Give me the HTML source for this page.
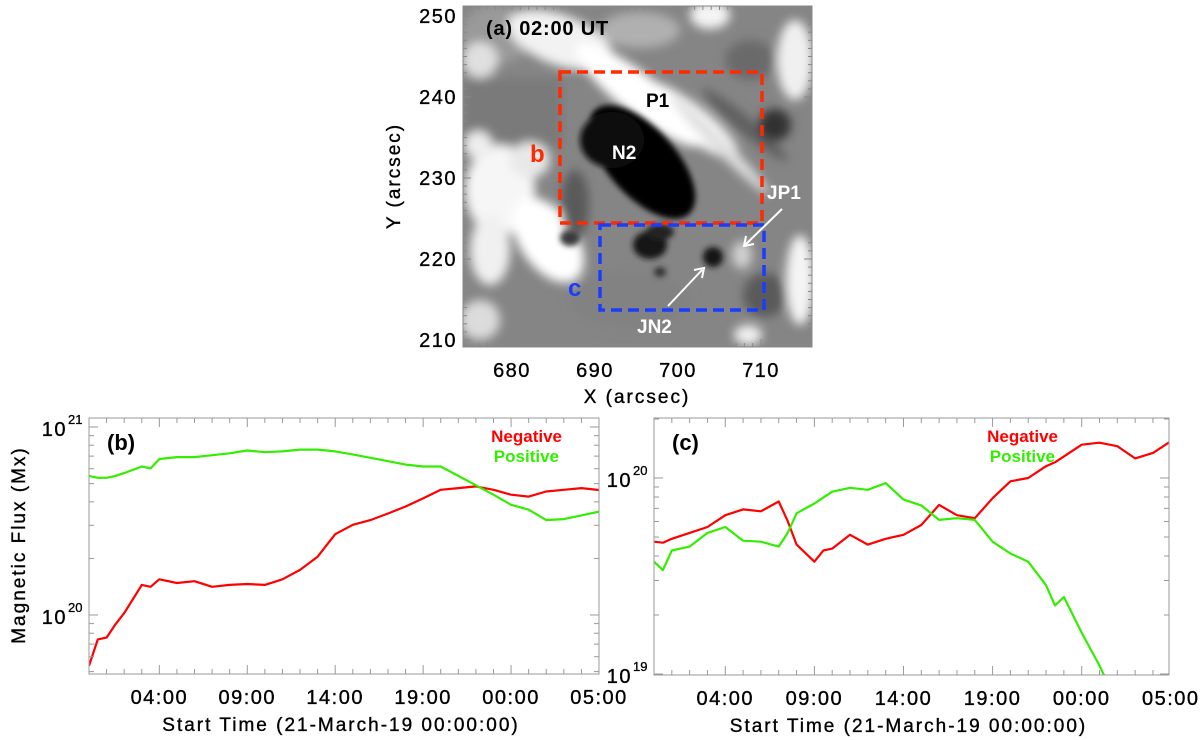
<!DOCTYPE html>
<html><head><meta charset="utf-8">
<style>
body{margin:0;background:#fff;}
#root{position:relative;width:1200px;height:740px;overflow:hidden;background:#fff;font-family:"Liberation Sans",sans-serif;}
svg text{font-family:"Liberation Sans",sans-serif;}
.tk{font-size:20px;letter-spacing:1.5px;stroke:#000;stroke-width:0.35px;}
.ttl{font-size:19px;letter-spacing:2px;stroke:#000;stroke-width:0.35px;}
</style></head>
<body>
<div id="root">
<svg id="svg" width="1200" height="740" viewBox="0 0 1200 740" xmlns="http://www.w3.org/2000/svg">
<defs>
<clipPath id="imgclip"><rect x="463" y="6" width="349" height="341"/></clipPath>
<filter id="bl" x="-50%" y="-50%" width="200%" height="200%"><feGaussianBlur stdDeviation="5"/></filter>
<filter id="bl2" x="-50%" y="-50%" width="200%" height="200%"><feGaussianBlur stdDeviation="3"/></filter>
<clipPath id="clipb"><rect x="89" y="418" width="510" height="256"/></clipPath>
<clipPath id="clipc"><rect x="654" y="418" width="515" height="257"/></clipPath>
</defs>
<g id="panel-a">
 <g clip-path="url(#imgclip)">
  <rect x="463" y="6" width="349" height="341" fill="#858585"/>
  <g filter="url(#bl)">
   <ellipse cx="495" cy="35" rx="35" ry="30" fill="#9a9a9a"/>
   <ellipse cx="560" cy="40" rx="55" ry="25" fill="#f2f2f2" transform="rotate(20 560 40)"/>
   <ellipse cx="480" cy="60" rx="18" ry="18" fill="#e0e0e0"/>
   <ellipse cx="640" cy="30" rx="40" ry="18" fill="#b0b0b0"/>
   <ellipse cx="710" cy="15" rx="20" ry="14" fill="#f4f4f4"/>
   <ellipse cx="795" cy="60" rx="18" ry="40" fill="#f0f0f0"/>
   <ellipse cx="750" cy="60" rx="25" ry="20" fill="#6a6a6a"/>
   <rect x="463" y="78" width="100" height="70" fill="#7a7a7a"/>
   <ellipse cx="500" cy="190" rx="35" ry="45" fill="#f6f6f6"/>
   <ellipse cx="490" cy="250" rx="20" ry="35" fill="#f0f0f0"/>
   <ellipse cx="530" cy="160" rx="20" ry="18" fill="#e8e8e8"/>
   <ellipse cx="478" cy="145" rx="14" ry="14" fill="#eeeeee"/>
   <ellipse cx="480" cy="320" rx="20" ry="20" fill="#dcdcdc"/>
   <ellipse cx="548" cy="240" rx="28" ry="48" fill="#ffffff" transform="rotate(-35 548 240)"/>
   <ellipse cx="575" cy="205" rx="14" ry="35" fill="#5a5a5a"/>
   <ellipse cx="640" cy="95" rx="80" ry="20" fill="#ffffff" transform="rotate(38 640 95)"/>
   <ellipse cx="690" cy="120" rx="60" ry="16" fill="#ffffff" transform="rotate(38 690 120)"/>
   <ellipse cx="720" cy="145" rx="70" ry="7" fill="#dedede" transform="rotate(45 720 145)"/>
   <ellipse cx="745" cy="125" rx="55" ry="8" fill="#5e5e5e" transform="rotate(40 745 125)"/>
   <ellipse cx="775" cy="125" rx="16" ry="16" fill="#333"/>
   <ellipse cx="800" cy="280" rx="14" ry="45" fill="#f4f4f4"/>
   <ellipse cx="748" cy="335" rx="14" ry="10" fill="#f0f0f0"/>
   <ellipse cx="630" cy="300" rx="60" ry="30" fill="#828282"/>
   <ellipse cx="765" cy="295" rx="22" ry="22" fill="#5a5a5a"/>
   <ellipse cx="742" cy="255" rx="10" ry="14" fill="#d0d0d0"/>
  </g>
  <g filter="url(#bl2)">
   <ellipse cx="642" cy="162" rx="70" ry="34" fill="#000" transform="rotate(48 642 162)"/>
   <ellipse cx="612" cy="140" rx="32" ry="28" fill="#101010"/>
   <ellipse cx="650" cy="245" rx="17" ry="14" fill="#151515"/>
   <ellipse cx="660" cy="232" rx="14" ry="8" fill="#222"/>
   <ellipse cx="570" cy="238" rx="10" ry="8" fill="#3a3a3a"/>
   <ellipse cx="713" cy="257" rx="10" ry="10" fill="#151515"/>
   <ellipse cx="660" cy="272" rx="6" ry="5" fill="#333"/>
  </g>
 </g>
 <rect x="463" y="6" width="349" height="341" fill="none" stroke="#888" stroke-width="1"/>
 <text x="486" y="35" font-size="20" font-weight="bold" letter-spacing="0.8" fill="#000">(a) 02:00 UT</text>
 <rect x="560" y="72" width="202" height="151" fill="none" stroke="#ff2a00" stroke-width="3.5" stroke-dasharray="11,6"/>
 <rect x="600" y="225" width="164" height="85" fill="none" stroke="#1a3cff" stroke-width="3.5" stroke-dasharray="11,6"/>
 <text x="530" y="162" font-size="24" font-weight="bold" fill="#ff2a00">b</text>
 <text x="568" y="296" font-size="24" font-weight="bold" fill="#1a3cff">c</text>
 <text x="646" y="107" font-size="19" font-weight="bold" fill="#000">P1</text>
 <text x="612" y="159" font-size="19" font-weight="bold" fill="#fff">N2</text>
 <text x="767" y="199" font-size="19" font-weight="bold" fill="#fff">JP1</text>
 <text x="637" y="333" font-size="19" font-weight="bold" fill="#fff">JN2</text>
 <line x1="782" y1="209" x2="745" y2="245" stroke="#fff" stroke-width="2"/>
 <polyline points="746,236 744,246 754,244" fill="none" stroke="#fff" stroke-width="2"/>
 <line x1="668" y1="306" x2="702" y2="270" stroke="#fff" stroke-width="2"/>
 <polyline points="694,270 704,268 702,278" fill="none" stroke="#fff" stroke-width="2"/>
 <g id="axa"></g>
 <text x="637" y="403" class="ttl" text-anchor="middle">X (arcsec)</text>
 <text transform="translate(400 176) rotate(-90)" class="ttl" text-anchor="middle">Y (arcsec)</text>
</g>
<g id="pb"></g>
<g id="pc"></g>
</svg>
</div>
<script>
// Panel (a) axis ticks
const aXTicks=[680,690,700,710];
const aYTicks=[210,220,230,240,250];
// Panel (b) data (hours from 21-Mar 00:00, log10 flux)
const bHours=[0,0.5,1,1.5,2,3,3.5,4,5,6,7,8,9,10,11,12,13,14,15,16,17,18,19,20,21,22,23,24,25,26,27,28,29];
const bNegative=[19.73,19.87,19.88,19.95,20.01,20.16,20.15,20.19,20.17,20.18,20.15,20.16,20.165,20.16,20.19,20.24,20.31,20.43,20.48,20.505,20.54,20.577,20.62,20.666,20.675,20.684,20.666,20.64,20.63,20.657,20.666,20.675,20.665];
const bPositive=[20.74,20.73,20.73,20.74,20.755,20.79,20.78,20.83,20.84,20.84,20.85,20.86,20.875,20.866,20.87,20.88,20.88,20.87,20.854,20.836,20.818,20.80,20.79,20.79,20.74,20.69,20.64,20.586,20.56,20.505,20.51,20.53,20.55];
// Panel (c) data
const cHours=[0,0.5,1,2,3,4,5,6,7,7.5,8,9,9.5,10,11,12,13,14,15,16,17,18,19,20,21,22,22.5,23,24,25,26,27,28,29];
const cNegative=[19.675,19.67,19.69,19.72,19.75,19.81,19.84,19.83,19.88,19.78,19.66,19.573,19.63,19.64,19.71,19.66,19.69,19.71,19.76,19.863,19.81,19.795,19.897,19.983,20.0,20.06,20.08,20.11,20.17,20.18,20.162,20.10,20.128,20.188];
const cPositive=[19.573,19.53,19.63,19.65,19.72,19.75,19.68,19.675,19.65,19.72,19.82,19.87,19.9,19.93,19.95,19.94,19.974,19.89,19.86,19.786,19.795,19.786,19.675,19.615,19.573,19.453,19.35,19.393,19.21,19.043,18.85,18.7,18.6,18.5];
const xMajor=[4,9,14,19,24,29];
const xMajorLabels=["04:00","09:00","14:00","19:00","00:00","05:00"];

const NS="http://www.w3.org/2000/svg";
function mk(tag,attrs,parent){const e=document.createElementNS(NS,tag);for(const k in attrs)e.setAttribute(k,attrs[k]);parent.appendChild(e);return e;}

// panel a axes
(function(){
 const g=document.getElementById('axa');
 const ax=v=>512+(v-680)*8.3, ay=v=>340-(v-210)*8.1;
 aXTicks.forEach(v=>{
  const l=mk('line',{x1:ax(v),x2:ax(v),y1:347,y2:339,stroke:'#888'},g);
  
  
  const t=mk('text',{x:ax(v),y:377,'class':'tk','text-anchor':'middle'},g);t.textContent=v;
  
  
 });
 for(let v=676;v<=716;v+=1){const x=ax(v);if(x>463&&x<812){mk('line',{x1:x,x2:x,y1:347,y2:343,stroke:'#888'},g);mk('line',{x1:x,x2:x,y1:6,y2:10,stroke:'#888'},g);}}
 aYTicks.forEach(v=>{
  mk('line',{x1:463,x2:471,y1:ay(v),y2:ay(v),stroke:'#888'},g);
  mk('line',{x1:812,x2:804,y1:ay(v),y2:ay(v),stroke:'#888'},g);
  const t=mk('text',{x:457,y:ay(v)+7,'class':'tk','text-anchor':'end'},g);t.textContent=v;
  
  
 });
 for(let v=210;v<=250;v+=1){const y=ay(v);mk('line',{x1:463,x2:467,y1:y,y2:y,stroke:'#888'},g);mk('line',{x1:812,x2:808,y1:y,y2:y,stroke:'#888'},g);}
})();

function panel(gid,P,hours,neg,pos,clip,label,yDecades){
 const g=document.getElementById(gid);
 const X=h=>P.x0+(h-P.h0)*(P.x1-P.x0)/(P.h1-P.h0);
 const Y=lv=>P.yRef-(lv-P.lRef)*P.dec;
 const sg=mk('g',{'clip-path':'url(#'+clip+')'},g);
 [[neg,'#ff0000','negative-line'],[pos,'#33ee00','positive-line']].forEach(([arr,col,nm])=>{
  const pts=hours.map((h,i)=>X(h).toFixed(1)+','+Y(arr[i]).toFixed(1)).join(' ');
  const pl=mk('polyline',{points:pts,fill:'none',stroke:col,'stroke-width':2.2,'stroke-linejoin':'round'},sg);
  
  
 });
 const fr=mk('rect',{x:P.x0,y:P.yt,width:P.x1-P.x0,height:P.yb-P.yt,fill:'none',stroke:'#999','stroke-width':1},g);
 
 
 for(let h=1;h<29;h++){const x=X(h);const L=xMajor.includes(h)?9:5;
  mk('line',{x1:x,x2:x,y1:P.yb,y2:P.yb-L,stroke:'#999'},g);mk('line',{x1:x,x2:x,y1:P.yt,y2:P.yt+L,stroke:'#999'},g);}
 xMajor.forEach((h,i)=>{const t=mk('text',{x:X(h),y:P.yb+30,'class':'tk','text-anchor':'middle'},g);t.textContent=xMajorLabels[i];
  
  });
 for(let d=P.dmin;d<=P.dmax;d++){for(let m=1;m<10;m++){const lv=d+Math.log10(m);const y=Y(lv);if(y<P.yt-0.5||y>P.yb+0.5)continue;const L=m===1?9:5;
  mk('line',{x1:P.x0,x2:P.x0+L,y1:y,y2:y,stroke:'#999'},g);mk('line',{x1:P.x1,x2:P.x1-L,y1:y,y2:y,stroke:'#999'},g);}}
 yDecades.forEach(d=>{const y=Y(d);const t=mk('text',{x:P.x0-22,y:y+9,'class':'tk','text-anchor':'end'},g);t.textContent='10';
  
  
  const s=mk('text',{x:P.x0-21,y:y-3,'font-size':13,stroke:'#000','stroke-width':0.3},g);s.textContent=String(d);});
 const tx=mk('text',{x:(P.x0+P.x1)/2-3,y:P.yb+57,'class':'ttl','text-anchor':'middle'},g);tx.textContent='Start Time (21-March-19 00:00:00)';
 
 
 const lb=mk('text',{x:P.x0+18,y:P.yt+32,'font-size':22,'font-weight':'bold'},g);lb.textContent=label;
 
 
 const ln=mk('text',{x:P.legX,y:P.yt+24,'font-size':17,'font-weight':'bold',fill:'#ff0000','text-anchor':'end'},g);ln.textContent='Negative';
 
 
 const lp=mk('text',{x:P.legX-3,y:P.yt+44,'font-size':17,'font-weight':'bold',fill:'#33ee00','text-anchor':'end'},g);lp.textContent='Positive';
 
 
}
panel('pb',{x0:89,x1:599,h0:0,h1:29,yt:418,yb:674,yRef:615,lRef:20,dec:188,dmin:19,dmax:21,legX:562},bHours,bNegative,bPositive,'clipb','(b)',[20,21]);
panel('pc',{x0:654,x1:1169,h0:0,h1:28.9,yt:418,yb:675,yRef:478,lRef:20,dec:196,dmin:18,dmax:20,legX:1058},cHours,cNegative,cPositive,'clipc','(c)',[19,20]);
(function(){const g=document.getElementById('pb');
 const t=mk('text',{transform:'translate(25 545) rotate(-90)','class':'ttl','text-anchor':'middle'},g);t.textContent='Magnetic Flux (Mx)';
 
 })();
</script>
</body></html>
